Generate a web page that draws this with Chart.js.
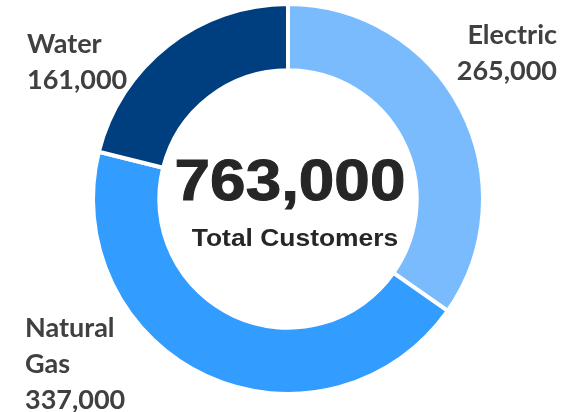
<!DOCTYPE html>
<html>
<head>
<meta charset="utf-8">
<script src="https://cdn.jsdelivr.net/npm/chart.js"></script>
<style>
  html, body { margin: 0; padding: 0; background: #fff; }
  #wrap { width: 569px; height: 412px; }
</style>
</head>
<body>
<div id="wrap"><canvas id="donut" width="569" height="412"></canvas></div>
<script>
// data
const categories = ['Electric', 'Natural Gas', 'Water'];
const customers = [265000, 337000, 161000];
const sliceColors = ['#79BBFD', '#339CFF', '#003F7F'];

const fmt = n => n.toLocaleString('en-US');
const total = customers.reduce((a, b) => a + b, 0);

// label text lines + anchor (x, first baseline, align)
const labelSpots = [
  { lines: ['Electric', fmt(customers[0])], x: 557, y: 44, align: 'right' },
  { lines: ['Natural', 'Gas', fmt(customers[1])], x: 25, y: 337, align: 'left' },
  { lines: ['Water', fmt(customers[2])], x: 27, y: 53, align: 'left' }
];

const textPlugin = {
  id: 'textPlugin',
  afterDraw(chart) {
    const ctx = chart.ctx;
    const arc = chart.getDatasetMeta(0).data[0];
    const cx = arc.x, cy = arc.y;
    ctx.save();
    // centre total
    ctx.fillStyle = '#262626';
    ctx.strokeStyle = '#262626';
    ctx.textAlign = 'center';
    ctx.textBaseline = 'alphabetic';
    ctx.save();
    ctx.translate(cx + 2, cy);
    ctx.scale(1.12, 1);
    ctx.font = 'bold 57px "Liberation Sans", Arial, sans-serif';
    ctx.lineWidth = 1;
    ctx.fillText(fmt(total), 0, 1);
    ctx.strokeText(fmt(total), 0, 1);
    ctx.restore();
    ctx.save();
    ctx.translate(cx + 7, cy);
    ctx.scale(1.1, 1);
    ctx.font = 'bold 24px "Liberation Sans", Arial, sans-serif';
    ctx.fillText('Total Customers', 0, 47);
    ctx.restore();
    // slice labels
    ctx.fillStyle = '#404040';
    ctx.font = 'bold 27px Lato, "Open Sans", sans-serif';
    labelSpots.forEach(l => {
      ctx.textAlign = l.align;
      l.lines.forEach((t, i) => ctx.fillText(t, l.x, l.y + i * 36));
    });
    ctx.restore();
  }
};

new Chart(document.getElementById('donut'), {
  type: 'doughnut',
  data: {
    labels: categories,
    datasets: [{
      data: customers,
      backgroundColor: sliceColors,
      borderColor: '#ffffff',
      borderWidth: 4,
      hoverOffset: 0
    }]
  },
  options: {
    responsive: false,
    animation: false,
    cutout: '66%',
    rotation: 0,
    layout: { padding: { left: 8, right: 1, top: 2, bottom: 16 } },
    plugins: {
      legend: { display: false },
      tooltip: { enabled: false }
    }
  },
  plugins: [textPlugin]
});
</script>
</body>
</html>
